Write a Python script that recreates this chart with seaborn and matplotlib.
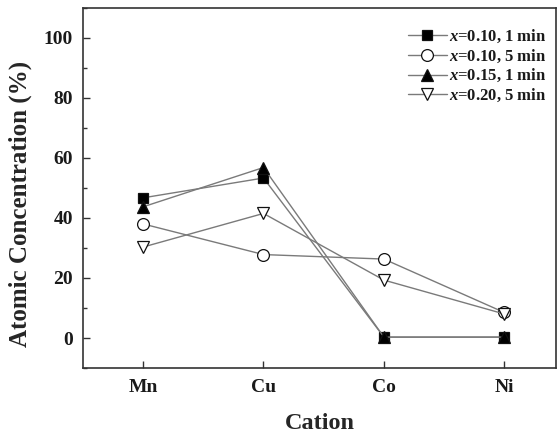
import matplotlib
matplotlib.use("Agg")
import matplotlib.pyplot as plt
import seaborn as sns
import pandas as pd
from matplotlib.ticker import MultipleLocator

cations = ["Mn", "Cu", "Co", "Ni"]
labels = ["$x$=0.10, 1 min", "$x$=0.10, 5 min", "$x$=0.15, 1 min", "$x$=0.20, 5 min"]
s1 = [46.7, 53.3, 0.3, 0.3]
s2 = [38.0, 27.8, 26.3, 8.5]
s3 = [43.7, 56.8, 0.3, 0.3]
s4 = [30.3, 41.5, 19.3, 8.0]
series = [s1, s2, s3, s4]

sns.set_style("ticks")
plt.rcParams["font.family"] = ["Liberation Serif", "DejaVu Serif"]
plt.rcParams["font.weight"] = "bold"
plt.rcParams["mathtext.fontset"] = "custom"
plt.rcParams["mathtext.it"] = "Liberation Serif:italic:bold"
plt.rcParams["mathtext.rm"] = "Liberation Serif:bold"
plt.rcParams["text.color"] = "#1a1a1a"

rows = []
for lab, vals in zip(labels, series):
    for c, v in zip(cations, vals):
        rows.append({"cation": c, "value": v, "series": lab})
df = pd.DataFrame(rows)

fig = plt.figure(figsize=(5.6, 4.34), dpi=100)
ax = fig.add_axes([0.148, 0.152, 0.845, 0.830])

styles = [
    dict(marker="s", markerfacecolor="black", markersize=7.5),
    dict(marker="o", markerfacecolor="white", markersize=8.5),
    dict(marker="^", markerfacecolor="black", markersize=8.5),
    dict(marker="v", markerfacecolor="white", markersize=9),
]
for lab, st in zip(labels, styles):
    sns.lineplot(data=df[df["series"] == lab], x="cation", y="value", ax=ax,
                 color="#7a7a7a", linewidth=1.0, markeredgecolor="#111111",
                 markeredgewidth=0.9, label=lab, sort=False, **st)

ax.set_xlim(-0.5, 3.43)
ax.set_ylim(-10, 110)
ax.yaxis.set_major_locator(MultipleLocator(20))
ax.yaxis.set_minor_locator(MultipleLocator(10))
ax.tick_params(axis="both", which="both", direction="in", labelsize=14, width=1.0,
               colors="#333333", labelcolor="#1a1a1a")
ax.tick_params(axis="both", which="major", length=5)
ax.tick_params(axis="y", which="major", pad=7)
ax.tick_params(axis="x", which="major", pad=8)
ax.tick_params(axis="y", which="minor", length=3)
for lbl in ax.get_xticklabels() + ax.get_yticklabels():
    lbl.set_fontweight("bold")
for sp in ax.spines.values():
    sp.set_linewidth(1.2)
    sp.set_color("#333333")

ax.set_xlabel("Cation", fontsize=17.5, fontweight="bold")
ax.set_ylabel("Atomic Concentration (%)", fontsize=18, fontweight="bold")
ax.xaxis.set_label_coords(0.5, -0.125, transform=ax.transAxes)
ax.xaxis.label.set_va("top")
ax.yaxis.set_label_coords(-0.107, 0.455, transform=ax.transAxes)

leg = ax.legend(loc="upper right", frameon=False, fontsize=12, handlelength=2.3,
                handletextpad=0.15, labelspacing=0.14, borderaxespad=0.6,
                bbox_to_anchor=(1.015, 0.99))
for t in leg.get_texts():
    t.set_fontweight("bold")

fig.savefig("out.png", dpi=100)
